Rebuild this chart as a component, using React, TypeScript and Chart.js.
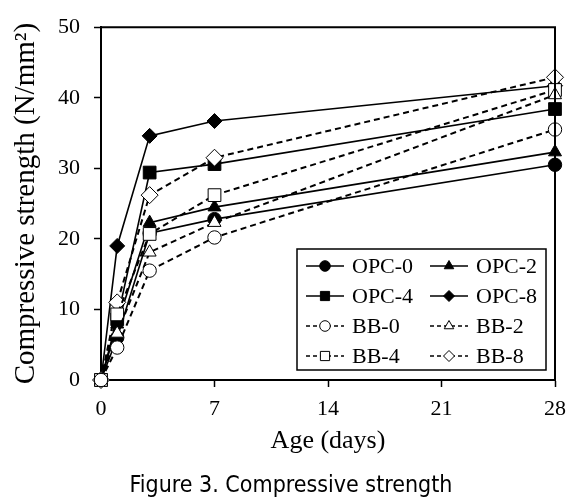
import React, { useEffect, useRef } from 'react';
import { Chart, registerables } from 'chart.js';
import { drawPoint } from 'chart.js/helpers';

Chart.register(...registerables);

// ---- data ----
const days = [0, 1, 3, 7, 28];
const opc0 = [0, 6.0, 20.8, 22.8, 30.5];
const opc2 = [0, 7.9, 22.3, 24.5, 32.3];
const opc4 = [0, 8.6, 29.4, 30.6, 38.4];
const opc8 = [0, 19.0, 34.6, 36.7, 41.7];
const bb0 = [0, 4.6, 15.5, 20.2, 35.5];
const bb2 = [0, 6.6, 18.1, 22.3, 40.4];
const bb4 = [0, 9.3, 20.7, 26.2, 41.1];
const bb8 = [0, 11.0, 26.2, 31.5, 42.9];
const seriesLabels = ['OPC-0', 'OPC-2', 'OPC-4', 'OPC-8', 'BB-0', 'BB-2', 'BB-4', 'BB-8'];
const seriesValues = [opc0, opc2, opc4, opc8, bb0, bb2, bb4, bb8];
const xTickValues = [0, 7, 14, 21, 28];
const yTickValues = [0, 10, 20, 30, 40, 50];
const xTitle = 'Age (days)';
const yTitle = 'Compressive strength (N/mm\u00B2)';
const caption = 'Figure 3. Compressive strength';

// ---- styles ----
const shapes = ['circle', 'triangle', 'rect', 'rectRot'];
const markerRadius: Record<string, number> = { circle: 6.7, triangle: 7.5, rect: 9, rectRot: 7.5 };
const legendRadius: Record<string, number> = { circle: 5.3, triangle: 5.5, rect: 6.5, rectRot: 5.5 };
const SERIF = "'Liberation Serif', 'Times New Roman', serif";
const CAPTION_FONT = "23px 'DejaVu Sans Condensed', 'DejaVu Sans', sans-serif";

const frameAndLegend = {
  id: 'frameAndLegend',
  afterDraw(chart: any) {
    const { ctx, chartArea } = chart;
    ctx.save();
    // top & right frame lines
    ctx.strokeStyle = '#000';
    ctx.lineWidth = 2;
    ctx.setLineDash([]);
    ctx.beginPath();
    ctx.moveTo(chartArea.left, chartArea.top);
    ctx.lineTo(chartArea.right, chartArea.top);
    ctx.lineTo(chartArea.right, chartArea.bottom);
    ctx.stroke();

    // legend box
    const bx = 297, by = 249, bw = 249, bh = 121;
    ctx.fillStyle = '#fff';
    ctx.fillRect(bx, by, bw, bh);
    ctx.lineWidth = 1.5;
    ctx.strokeRect(bx, by, bw, bh);

    chart.data.datasets.forEach((ds: any, i: number) => {
      const col = i % 2;
      const row = Math.floor(i / 2);
      const lx = bx + 9 + col * 124;
      const cy = by + 17 + row * 30;
      const isDash = !!(ds.borderDash && ds.borderDash.length);
      ctx.strokeStyle = '#000';
      ctx.lineWidth = 1.5;
      ctx.setLineDash(isDash ? [4, 3] : []);
      ctx.beginPath();
      ctx.moveTo(lx, cy);
      ctx.lineTo(lx + 38, cy);
      ctx.stroke();
      ctx.setLineDash([]);
      ctx.fillStyle = ds.pointBackgroundColor;
      ctx.strokeStyle = '#000';
      ctx.lineWidth = 1;
      drawPoint(ctx, { pointStyle: ds.pointStyle, rotation: 0, radius: legendRadius[ds.pointStyle], borderWidth: 1 } as any, lx + 19, cy);
      ctx.fillStyle = '#000';
      ctx.font = `22px ${SERIF}`;
      ctx.textBaseline = 'middle';
      ctx.textAlign = 'left';
      ctx.fillText(ds.label, lx + 46, cy + 1);
    });

    // figure caption
    ctx.fillStyle = '#000';
    ctx.font = CAPTION_FONT;
    ctx.textAlign = 'center';
    ctx.textBaseline = 'middle';
    ctx.fillText(caption, 291, 486);
    ctx.restore();
  },
};

export default function App() {
  const ref = useRef<HTMLCanvasElement | null>(null);
  useEffect(() => {
    if (!ref.current) return;
    const datasets = seriesLabels.map((label, i) => {
      const isBB = i >= 4;
      const shape = shapes[i % 4];
      return {
        label,
        data: days.map((d, j) => ({ x: d, y: seriesValues[i][j] })),
        borderColor: '#000',
        borderWidth: isBB ? 2 : 1.6,
        borderDash: isBB ? [6, 4] : [],
        pointStyle: shape,
        pointRadius: markerRadius[shape] + (isBB && shape === 'rectRot' ? 1 : 0),
        pointBackgroundColor: isBB ? '#fff' : '#000',
        pointBorderColor: '#000',
        pointBorderWidth: 1,
        tension: 0,
        clip: false as any,
        order: isBB ? 0 : 1,
      };
    });
    const chart = new Chart(ref.current, {
      type: 'line',
      data: { datasets } as any,
      plugins: [frameAndLegend],
      options: {
        animation: false,
        responsive: false,
        devicePixelRatio: 1,
        layout: { padding: { top: 21, right: 29, left: 0, bottom: 38 } },
        plugins: {
          legend: { display: false },
          tooltip: { enabled: false },
          title: { display: false },
        },
        scales: {
          x: {
            type: 'linear',
            min: 0,
            max: 28,
            afterFit: (s: any) => { s.height = 85; },
            afterBuildTicks: (s: any) => { s.ticks = xTickValues.map((v) => ({ value: v })); },
            ticks: { color: '#000', font: { family: SERIF, size: 22 }, padding: 9, maxRotation: 0 },
            grid: { drawOnChartArea: false, drawTicks: true, tickLength: 7, color: '#000', tickWidth: 1.5 },
            border: { display: true, color: '#000', width: 2 },
            title: { display: true, text: xTitle, color: '#000', font: { family: SERIF, size: 26 }, padding: { top: 0, bottom: 8 } },
          },
          y: {
            type: 'linear',
            min: 0,
            max: 50,
            afterFit: (s: any) => { s.width = 101; },
            afterBuildTicks: (s: any) => { s.ticks = yTickValues.map((v) => ({ value: v })); },
            ticks: { color: '#000', font: { family: SERIF, size: 22 }, padding: 14 },
            grid: { drawOnChartArea: false, drawTicks: true, tickLength: 7, color: '#000', tickWidth: 1.5 },
            border: { display: true, color: '#000', width: 2 },
            title: { display: true, text: yTitle, color: '#000', font: { family: SERIF, size: 29 }, padding: { top: 9, bottom: 0 } },
          },
        },
      } as any,
    });
    return () => chart.destroy();
  }, []);
  return (
    <div style={{ position: 'absolute', left: 0, top: 0, width: 584, height: 503, background: '#fff' }}>
      <canvas ref={ref} width={584} height={503} style={{ width: 584, height: 503, display: 'block' }} />
    </div>
  );
}
